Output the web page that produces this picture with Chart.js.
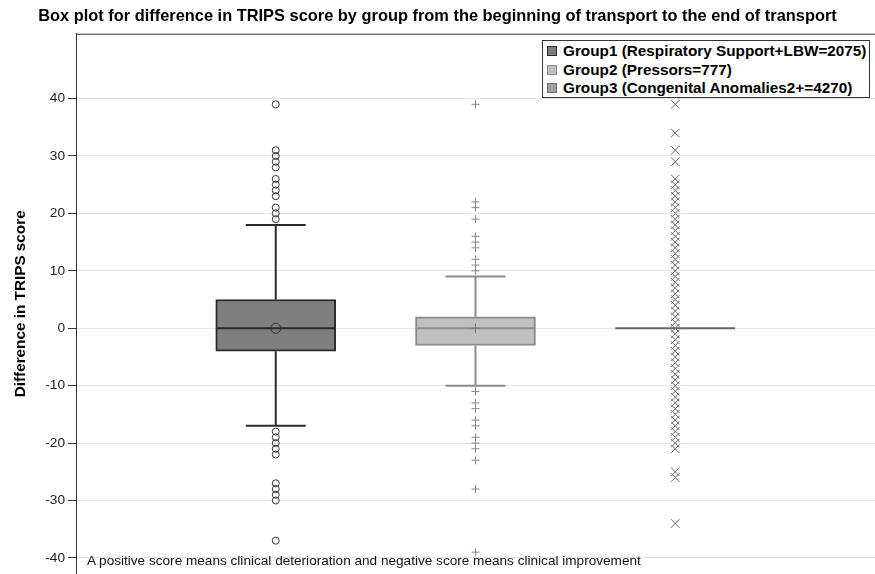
<!DOCTYPE html>
<html>
<head>
<meta charset="utf-8">
<title>TRIPS box plot</title>
<script src="https://cdn.jsdelivr.net/npm/chart.js@4.4.1/dist/chart.umd.min.js"></script>
<style>
  body { margin: 0; background: #fff; font-family: 'Liberation Sans', Arial, sans-serif; }
  #wrap { position: relative; width: 875px; height: 574px; overflow: hidden; }
  #legend { position: absolute; left: 542px; top: 40px; width: 326px; height: 55px; border: 1px solid #333; background: #fff; padding-top: 1px; }
  .item { height: 18.5px; line-height: 18.5px; font-weight: bold; font-size: 15.3px; white-space: nowrap; color: #000; }
  .sw { display: inline-block; width: 8px; height: 8px; border: 1px solid #444; margin: 0 6px 0 4px; vertical-align: 0px; }
  #note { position: absolute; left: 87px; top: 553px; font-size: 13.6px; color: #111; white-space: nowrap; }
</style>
</head>
<body>
<div id="wrap">
  <canvas id="boxChart" width="875" height="574"></canvas>
  <div id="legend"></div>
  <div id="note">A positive score means clinical deterioration and negative score means clinical improvement</div>
</div>
<script>
// --- Data ---
const groups = ['Group1 (Respiratory Support+LBW=2075)', 'Group2 (Pressors=777)', 'Group3 (Congenital Anomalies2+=4270)'];
const positions = [1, 2, 3];
const q1 = [-4, -3, 0];
const medians = [0, 0, 0];
const q3 = [5, 2, 0];
const whiskerLow = [-17, -10, 0];
const whiskerHigh = [18, 9, 0];
const means = [0, 0, 0];
const outliers1 = [39, 31, 30, 29, 28, 26, 25, 24, 23, 21, 20, 19, -18, -19, -20, -21, -22, -27, -28, -29, -30, -37];
const outliers2 = [39, 22, 21, 19, 16, 15, 14, 12, 11, 10, -11, -13, -14, -16, -17, -19, -20, -21, -23, -28, -39];
const outliers3 = [39, 34, 31, 29, 26, 25, 24, 23, 22, 21, 20, 19, 18, 17, 16, 15, 14, 13, 12, 11, 10, 9, 8, 7, 6, 5, 4, 3, 2, 1,
  -1, -2, -3, -4, -5, -6, -7, -8, -9, -10, -11, -12, -13, -14, -15, -16, -17, -18, -19, -20, -21, -25, -26, -34];
const yTicks = [-40, -30, -20, -10, 0, 10, 20, 30, 40];

// --- Styles ---
const FONT = "'Liberation Sans', Arial, sans-serif";
const fills = ['#7f7f7f', '#c0c0c0', '#a0a0a0'];
const lines = ['#2b2b2b', '#8c8c8c', '#666666'];
const BOX_HALF = 0.3;
const CAP_HALF = 0.15;

Chart.defaults.font.family = FONT;

// whiskers, caps and median lines, drawn right after the boxes
const boxParts = {
  id: 'boxParts',
  afterDatasetDraw(chart, args) {
    if (args.index !== 0) return;
    const { ctx, scales: { x, y } } = chart;
    ctx.save();
    ctx.lineWidth = 2;
    positions.forEach((p, i) => {
      ctx.strokeStyle = lines[i];
      const cx = x.getPixelForValue(p);
      const capL = x.getPixelForValue(p - CAP_HALF);
      const capR = x.getPixelForValue(p + CAP_HALF);
      ctx.beginPath();
      if (whiskerHigh[i] > q3[i]) {
        ctx.moveTo(cx, y.getPixelForValue(q3[i]));
        ctx.lineTo(cx, y.getPixelForValue(whiskerHigh[i]));
        ctx.moveTo(capL, y.getPixelForValue(whiskerHigh[i]));
        ctx.lineTo(capR, y.getPixelForValue(whiskerHigh[i]));
      }
      if (whiskerLow[i] < q1[i]) {
        ctx.moveTo(cx, y.getPixelForValue(q1[i]));
        ctx.lineTo(cx, y.getPixelForValue(whiskerLow[i]));
        ctx.moveTo(capL, y.getPixelForValue(whiskerLow[i]));
        ctx.lineTo(capR, y.getPixelForValue(whiskerLow[i]));
      }
      ctx.moveTo(x.getPixelForValue(p - BOX_HALF), y.getPixelForValue(medians[i]));
      ctx.lineTo(x.getPixelForValue(p + BOX_HALF), y.getPixelForValue(medians[i]));
      ctx.stroke();
    });
    ctx.restore();
  },
  afterDraw(chart) {
    // frame line along the top of the plot
    const { ctx, chartArea } = chart;
    ctx.save();
    ctx.strokeStyle = '#333';
    ctx.lineWidth = 1;
    ctx.beginPath();
    ctx.moveTo(chartArea.left, chartArea.top + 0.5);
    ctx.lineTo(chartArea.right, chartArea.top + 0.5);
    ctx.stroke();
    ctx.restore();
  }
};

const pts = (arr, i) => arr.map(v => ({ x: positions[i], y: v }));

const ctx = document.getElementById('boxChart').getContext('2d');
new Chart(ctx, {
  type: 'bar',
  data: {
    datasets: [
      {
        label: 'boxes',
        data: positions.map((p, i) => ({ x: p, y: [q1[i], q3[i]] })),
        backgroundColor: fills,
        borderColor: lines,
        borderWidth: 2,
        borderSkipped: false,
        barThickness: 120,
        order: 1 // boxes go underneath the markers
      },
      {
        type: 'scatter',
        data: pts(outliers1, 0),
        pointStyle: 'circle',
        pointRadius: 3.5,
        borderColor: '#333',
        backgroundColor: 'rgba(255,255,255,0)',
        borderWidth: 1,
        order: 0
      },
      {
        type: 'scatter',
        data: pts(outliers2, 1),
        pointStyle: 'cross',
        pointRadius: 4,
        borderColor: '#888',
        borderWidth: 1,
        order: 0
      },
      {
        type: 'scatter',
        data: pts(outliers3, 2),
        pointStyle: 'crossRot',
        pointRadius: 6,
        borderColor: '#666',
        borderWidth: 1,
        order: 0
      },
      {
        type: 'scatter',
        data: positions.map((p, i) => ({ x: p, y: means[i] })),
        pointStyle: ['circle', 'cross', 'crossRot'],
        pointRadius: [5, 5, 6],
        borderColor: ['#333', '#7a7a7a', '#666'],
        backgroundColor: 'rgba(255,255,255,0)',
        borderWidth: 1,
        order: 0
      }
    ]
  },
  options: {
    responsive: false,
    animation: false,
    events: [],
    layout: { padding: 0, autoPadding: false },
    plugins: {
      legend: { display: false },
      tooltip: { enabled: false },
      title: {
        display: true,
        text: 'Box plot for difference in TRIPS score by group from the beginning of transport to the end of transport',
        color: '#000',
        font: { size: 16.4, weight: 'bold' },
        padding: { top: 7, bottom: 7 }
      }
    },
    scales: {
      x: { type: 'linear', min: 0, max: 4, offset: false, display: false },
      y: {
        min: -42.8,
        max: 51.3,
        afterBuildTicks: (s) => { s.ticks = yTicks.map(v => ({ value: v })); },
        afterFit: (s) => { s.width = 76; s.paddingTop = 0; s.paddingBottom = 0; },
        ticks: { color: '#222', font: { size: 13.7 }, padding: 3 },
        grid: { color: '#e6e6e6', tickColor: '#333', tickLength: 8 },
        border: { color: '#333', width: 1 },
        title: {
          display: true,
          text: 'Difference in TRIPS score',
          color: '#000',
          font: { size: 15.3, weight: 'bold' },
          padding: { top: 12, bottom: 0 }
        }
      }
    }
  },
  plugins: [boxParts]
});

// --- Legend ---
const legend = document.getElementById('legend');
groups.forEach((g, i) => {
  const row = document.createElement('div');
  row.className = 'item';
  row.innerHTML = `<span class="sw" style="background:${fills[i]};border-color:${lines[i]}"></span>${g}`;
  legend.appendChild(row);
});
</script>
</body>
</html>
